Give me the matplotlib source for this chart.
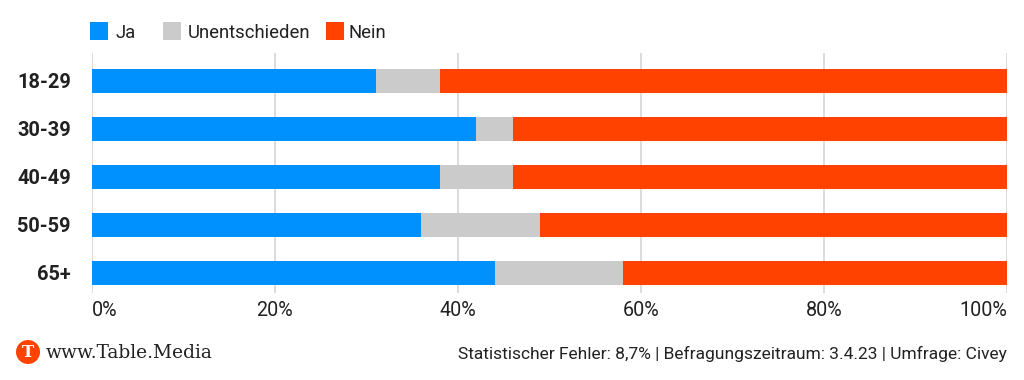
import numpy as np
import matplotlib
matplotlib.use("Agg")
import matplotlib.pyplot as plt
from matplotlib.patches import Circle, Rectangle

W, H = 1024, 380

ages = ["18-29", "30-39", "40-49", "50-59", "65+"]
ja = [31, 42, 38, 36, 44]
unentschieden = [7, 4, 8, 13, 14]
nein = [62, 54, 54, 51, 42]
ticks = [0, 20, 40, 60, 80, 100]
tick_labels = ["0%", "20%", "40%", "60%", "80%", "100%"]

BLUE = "#0091ff"
GREY = "#cbcbcb"
RED = "#ff4200"
INK = "#212121"

plt.rcParams["font.family"] = ["Roboto", "DejaVu Sans"]

fig = plt.figure(figsize=(W / 100, H / 100), dpi=100, facecolor="white")


def fx(px):
    return px / W


def fy(px):
    return 1 - px / H


# axes box in pixels: x 92-1007.5, y 53-293
ax = fig.add_axes([fx(91.7), fy(293), fx(915.5), 240 / H])

y = np.arange(len(ages))
ja_arr = np.array(ja)
un_arr = np.array(unentschieden)
nein_arr = np.array(nein)
bh = 0.5
ax.barh(y, ja_arr, bh, color=BLUE, zorder=3)
ax.barh(y, un_arr, bh, left=ja_arr, color=GREY, zorder=3)
ax.barh(y, nein_arr, bh, left=ja_arr + un_arr, color=RED, zorder=3)

ax.set_xlim(0, 100)
ax.set_ylim(4.417, -0.583)
ax.set_xticks(ticks)
ax.set_xticklabels(tick_labels, fontsize=14.2, color=INK)
ax.get_xticklabels()[0].set_ha("left")
ax.get_xticklabels()[-1].set_ha("right")
ax.set_yticks(y)
ax.set_yticklabels(ages, fontsize=14.4, fontweight="bold", color=INK)
ax.tick_params(axis="x", length=0, pad=6)
ax.tick_params(axis="y", length=0, pad=15)
ax.grid(axis="x", color="#d2d2d2", lw=1.1, zorder=0)
ax.set_axisbelow(True)
for s in ax.spines.values():
    s.set_visible(False)

# legend, spaced by hand because the gaps are uneven
legend_items = [("Ja", BLUE, 90, 116), ("Unentschieden", GREY, 163, 188), ("Nein", RED, 326, 348)]
for name, col, x_box, x_txt in legend_items:
    fig.add_artist(Rectangle((fx(x_box), fy(40)), 18 / W, 18 / H, color=col,
                             transform=fig.transFigure, lw=0))
    fig.text(fx(x_txt), fy(33), name, fontsize=13.3, color=INK, va="center", ha="left")

# footer
fig.add_artist(Circle((28, H - 352), 12, color=RED, transform=None, lw=0))
fig.text(fx(28), fy(352.5), "T", fontsize=12, color="white", fontweight="bold",
         family="DejaVu Serif", ha="center", va="center")
fig.text(fx(46), fy(353), "www.Table.Media", fontsize=13.45, color=INK,
         family="DejaVu Serif", ha="left", va="center")
fig.text(fx(1007), fy(354), "Statistischer Fehler: 8,7% | Befragungszeitraum: 3.4.23 | Umfrage: Civey",
         fontsize=12.5, color=INK, ha="right", va="center")

fig.savefig("out.png", dpi=100)
